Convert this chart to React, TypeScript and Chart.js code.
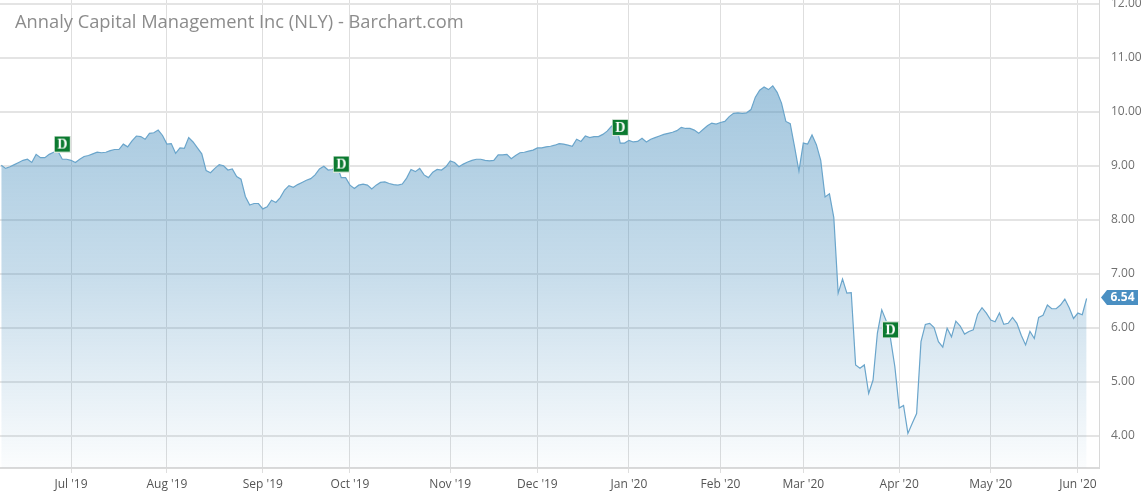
import React, { useEffect, useRef } from "react";
import { Chart, registerables } from "chart.js";

Chart.register(...registerables);

const TITLE = "Annaly Capital Management Inc (NLY) - Barchart.com";

// Daily closes, Jun 7 2019 .. Jun 3 2020 (trading-day index)
const closes: number[] = [
  9.01, 8.95, 8.98, 9.02, 9.06, 9.10, 9.12, 9.06, 9.21, 9.15,
  9.15, 9.21, 9.25, 9.27, 9.12, 9.12, 9.10, 9.06, 9.12, 9.17,
  9.19, 9.22, 9.25, 9.24, 9.25, 9.28, 9.30, 9.30, 9.40, 9.35,
  9.46, 9.55, 9.54, 9.49, 9.60, 9.61, 9.66, 9.56, 9.40, 9.41,
  9.23, 9.33, 9.32, 9.52, 9.44, 9.33, 9.22, 8.91, 8.87, 8.95,
  9.02, 9.00, 8.92, 8.94, 8.80, 8.75, 8.43, 8.27, 8.30, 8.30,
  8.20, 8.24, 8.36, 8.32, 8.41, 8.55, 8.63, 8.60, 8.65, 8.69,
  8.73, 8.76, 8.83, 8.94, 8.99, 8.92, 8.93, 9.01, 8.78, 8.78,
  8.64, 8.58, 8.64, 8.66, 8.64, 8.57, 8.64, 8.69, 8.70, 8.67,
  8.65, 8.64, 8.66, 8.77, 8.93, 8.89, 8.95, 8.83, 8.78, 8.88,
  8.93, 8.92, 8.98, 9.09, 9.06, 8.98, 9.03, 9.07, 9.10, 9.12,
  9.12, 9.10, 9.09, 9.10, 9.20, 9.20, 9.21, 9.13, 9.19, 9.24,
  9.25, 9.27, 9.29, 9.33, 9.33, 9.35, 9.36, 9.38, 9.41, 9.40,
  9.38, 9.36, 9.49, 9.45, 9.55, 9.52, 9.54, 9.54, 9.58, 9.64,
  9.73, 9.79, 9.42, 9.42, 9.47, 9.44, 9.45, 9.51, 9.44, 9.49,
  9.52, 9.55, 9.58, 9.60, 9.62, 9.65, 9.71, 9.69, 9.69, 9.66,
  9.60, 9.67, 9.74, 9.79, 9.77, 9.80, 9.82, 9.91, 9.97, 9.98,
  9.97, 9.98, 10.04, 10.27, 10.40, 10.46, 10.41, 10.48, 10.36, 10.16,
  9.82, 9.78, 9.35, 8.90, 9.42, 9.40, 9.57, 9.39, 9.10, 8.42,
  8.48, 8.04, 6.64, 6.90, 6.64, 6.65, 5.31, 5.25, 5.31, 4.78,
  5.03, 5.90, 6.33, 6.13, 5.80, 5.28, 4.51, 4.56, 4.04, 4.23,
  4.41, 5.74, 6.06, 6.08, 6.00, 5.74, 5.64, 5.99, 5.83, 6.12,
  6.03, 5.88, 5.93, 5.96, 6.25, 6.37, 6.27, 6.14, 6.11, 6.27,
  6.06, 6.08, 6.19, 6.08, 5.86, 5.68, 5.93, 5.80, 6.19, 6.23,
  6.42, 6.35, 6.35, 6.42, 6.53, 6.37, 6.17, 6.27, 6.24, 6.54,
];

// Month tick positions (trading-day index) and labels
const monthTickIdx = [16, 38, 60, 80, 103, 123, 144, 165, 184, 206, 227, 247];
const monthTickLabels = [
  "Jul '19", "Aug '19", "Sep '19", "Oct '19", "Nov '19", "Dec '19",
  "Jan '20", "Feb '20", "Mar '20", "Apr '20", "May '20", "Jun '20",
];

const yTickValues = [4, 5, 6, 7, 8, 9, 10, 11, 12];

// Dividend markers (trading-day index, price level of marker)
const dividendIdx = [14, 78, 142, 204];
const dividendLevel = [9.40, 9.03, 9.71, 5.96];

const X_MIN = -0.29;
const X_MAX = 251.84;
const Y_MIN = 3.40;
const Y_MAX = 12.07;

function makeDividendIcon(): HTMLCanvasElement {
  const c = document.createElement("canvas");
  c.width = 17;
  c.height = 17;
  const g = c.getContext("2d")!;
  g.fillStyle = "#d9e6dc";
  g.fillRect(0, 0, 17, 17);
  g.fillStyle = "#0b7a30";
  g.fillRect(1, 1, 15, 15);
  g.fillStyle = "#ffffff";
  g.font = 'bold 14px "Liberation Serif", "DejaVu Serif", serif';
  g.textAlign = "center";
  g.textBaseline = "middle";
  g.fillText("D", 8.5, 9.5);
  return c;
}

const overlayPlugin = {
  id: "overlay",
  afterDraw(chart: any) {
    const ctx = chart.ctx as CanvasRenderingContext2D;
    const area = chart.chartArea;
    ctx.save();
    // title
    ctx.font = '18.3px "Open Sans"';
    ctx.fillStyle = "#8c8c8c";
    ctx.textAlign = "left";
    ctx.textBaseline = "alphabetic";
    ctx.fillText(TITLE, 15, 28);
    // last price tag
    const last = closes[closes.length - 1];
    const yv = chart.scales.y.getPixelForValue(last) - 1;
    const tip = area.right + 2;
    const bx = tip + 6;
    const bw = 31;
    const bh = 15;
    ctx.fillStyle = "#4a8fc2";
    ctx.beginPath();
    ctx.moveTo(tip, yv);
    ctx.lineTo(bx, yv - bh / 2);
    ctx.lineTo(bx + bw, yv - bh / 2);
    ctx.lineTo(bx + bw, yv + bh / 2);
    ctx.lineTo(bx, yv + bh / 2);
    ctx.closePath();
    ctx.fill();
    ctx.fillStyle = "#ffffff";
    ctx.font = 'bold 12px "Open Sans"';
    ctx.textAlign = "center";
    ctx.textBaseline = "middle";
    ctx.fillText(last.toFixed(2), bx + bw / 2, yv + 0.5);
    ctx.restore();
  },
};

export default function App() {
  const ref = useRef<HTMLCanvasElement | null>(null);

  useEffect(() => {
    if (!ref.current) return;
    const icon = makeDividendIcon();
    const chart = new Chart(ref.current, {
      type: "line",
      data: {
        datasets: [
          {
            label: "Dividends",
            data: dividendIdx.map((x, i) => ({ x, y: dividendLevel[i] })),
            showLine: false,
            pointStyle: icon as any,
            pointRadius: 8,
            order: 0,
          } as any,
          {
            label: "NLY",
            data: closes.map((y, x) => ({ x, y })),
            borderColor: "#6aa5cb",
            borderWidth: 1.2,
            pointRadius: 0,
            tension: 0,
            fill: "start",
            order: 1,
            backgroundColor: (c: any) => {
              const a = c.chart.chartArea;
              if (!a) return "rgba(60,135,185,0.3)";
              const g = c.chart.ctx.createLinearGradient(0, a.top, 0, a.bottom);
              g.addColorStop(0, "rgba(60,135,185,0.55)");
              g.addColorStop(0.6, "rgba(60,135,185,0.28)");
              g.addColorStop(1, "rgba(60,135,185,0.02)");
              return g;
            },
          } as any,
        ],
      },
      options: {
        animation: false,
        responsive: false,
        devicePixelRatio: 1,
        layout: { padding: 0, autoPadding: false },
        plugins: {
          legend: { display: false },
          tooltip: { enabled: false },
          title: { display: false },
        },
        scales: {
          x: {
            type: "linear",
            min: X_MIN,
            max: X_MAX,
            bounds: "data",
            position: "bottom",
            afterBuildTicks: (s: any) => {
              s.ticks = monthTickIdx.map((v) => ({ value: v }));
            },
            afterFit: (s: any) => {
              s.height = 27;
              s.paddingLeft = 0;
              s.paddingRight = 0;
            },
            ticks: {
              autoSkip: false,
              maxRotation: 0,
              minRotation: 0,
              padding: 4,
              color: "#555555",
              font: { family: '"Open Sans"', size: 12 },
              callback: (_v: any, i: number) => monthTickLabels[i],
            },
            grid: { color: "#dedede", lineWidth: 1, tickLength: 5, drawTicks: true },
            border: { display: true, color: "#dadada", width: 2 },
          },
          y: {
            type: "linear",
            position: "right",
            min: Y_MIN,
            max: Y_MAX,
            bounds: "data",
            afterBuildTicks: (s: any) => {
              s.ticks = yTickValues.map((v) => ({ value: v }));
            },
            afterFit: (s: any) => {
              s.width = 46;
              s.paddingTop = 0;
              s.paddingBottom = 0;
            },
            ticks: {
              padding: 12,
              color: "#707070",
              font: { family: '"Open Sans"', size: 12 },
              callback: (v: any) => Number(v).toFixed(2),
            },
            grid: { color: "#e4e4e4", lineWidth: 2, drawTicks: false },
            border: { display: true, color: "#d8d8d8", width: 1 },
          },
        },
      } as any,
      plugins: [overlayPlugin],
    });
    return () => chart.destroy();
  }, []);

  return (
    <div style={{ position: "fixed", left: 0, top: 0, width: 1145, height: 495, background: "#ffffff" }}>
      <canvas ref={ref} width={1145} height={495} style={{ display: "block", width: 1145, height: 495 }} />
    </div>
  );
}
